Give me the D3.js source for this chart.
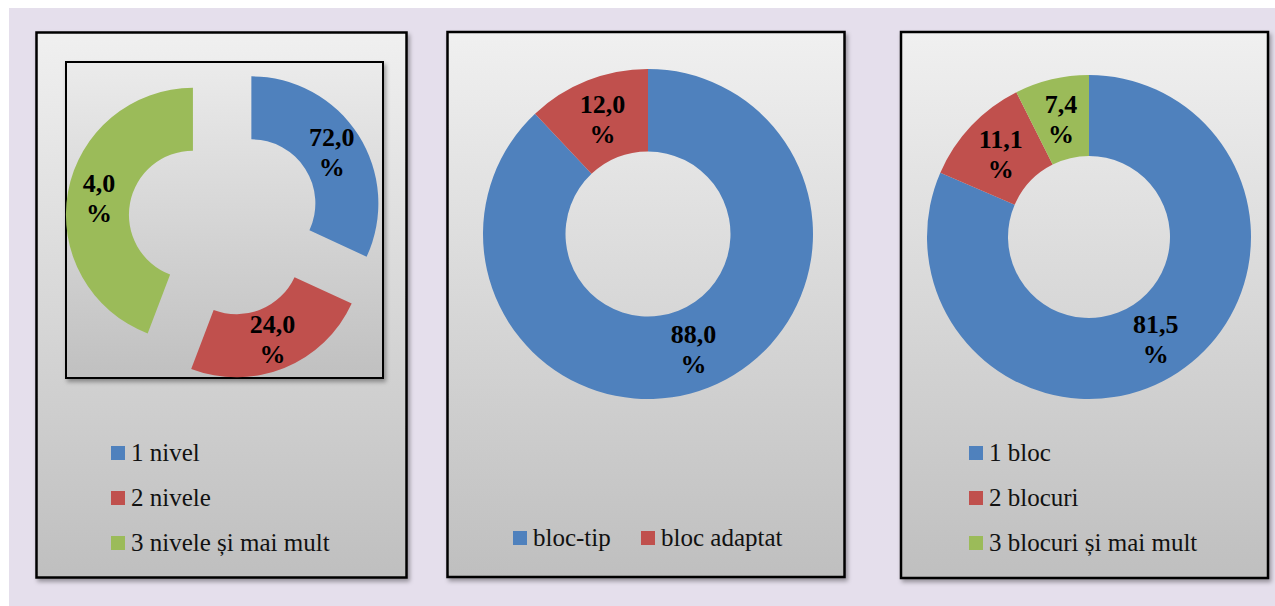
<!DOCTYPE html>
<html><head><meta charset="utf-8">
<script src="https://cdn.jsdelivr.net/npm/d3@7"></script>
</head><body style="margin:0;background:#fff">
<div id="wrap"></div>
<script>
const colors = ["#4f81bd", "#c0504d", "#9bbb59"];

// Panel 1 – number of levels (slice sizes as drawn; printed labels as shown)
const nivelCategories = ["1 nivel", "2 nivele", "3 nivele și mai mult"];
const nivelShares = [31.9, 23.9, 44.2];
const nivelLabels = ["72,0", "24,0", "4,0"];

// Panel 2 – building type
const tipCategories = ["bloc-tip", "bloc adaptat"];
const tipValues = [88.0, 12.0];

// Panel 3 – number of blocks
const blocCategories = ["1 bloc", "2 blocuri", "3 blocuri și mai mult"];
const blocValues = [81.5, 11.1, 7.4];

const fmt = v => d3.format(".1f")(v).replace(".", ",");
const FONT = '"Liberation Serif", cursive';

const svg = d3.select("#wrap").append("svg").attr("width", 1275).attr("height", 606)
  .style("display", "block");
const defs = svg.append("defs");

const grad = defs.append("linearGradient").attr("id", "panelGrad")
  .attr("x1", 0).attr("y1", 0).attr("x2", 0).attr("y2", 1);
grad.append("stop").attr("offset", "0%").attr("stop-color", "#f0f0f0");
grad.append("stop").attr("offset", "100%").attr("stop-color", "#bfbfbf");

const grad2 = defs.append("linearGradient").attr("id", "plotGrad")
  .attr("x1", 0).attr("y1", 0).attr("x2", 0).attr("y2", 1);
grad2.append("stop").attr("offset", "0%").attr("stop-color", "#ebebeb");
grad2.append("stop").attr("offset", "100%").attr("stop-color", "#c0c0c0");

const shadow = defs.append("filter").attr("id", "shadow")
  .attr("x", "-5%").attr("y", "-5%").attr("width", "115%").attr("height", "115%");
shadow.append("feDropShadow").attr("dx", 2).attr("dy", 3).attr("stdDeviation", 2)
  .attr("flood-color", "#000").attr("flood-opacity", 0.35);

// background
svg.append("rect").attr("x", 9).attr("y", 8).attr("width", 1266).attr("height", 598)
  .attr("fill", "#e5dfec");

const panels = [
  {x: 36.5, y: 32.5, w: 370, h: 545},
  {x: 447.5, y: 32, w: 397, h: 545},
  {x: 901, y: 32, w: 367, h: 546}
];
panels.forEach(p => {
  svg.append("rect").attr("x", p.x).attr("y", p.y).attr("width", p.w).attr("height", p.h)
    .attr("fill", "url(#panelGrad)").attr("stroke", "#000").attr("stroke-width", 2.5)
    .attr("filter", "url(#shadow)");
});

// inner plot area of panel 1
svg.append("rect").attr("x", 66).attr("y", 62).attr("width", 317).attr("height", 316)
  .attr("fill", "url(#plotGrad)").attr("stroke", "#000").attr("stroke-width", 2)
  .attr("filter", "url(#shadow)");

const pie = d3.pie().sort(null).value(d => d.v);

function labelText(g, x, y, main) {
  [[main, y - 6], ["%", y + 24]].forEach(([s, yy]) => {
    g.append("text").attr("x", x).attr("y", yy)
      .attr("text-anchor", "middle")
      .attr("font-family", "Liberation Serif")
      .style("font-family", FONT, "important")
      .style("font-weight", "bold").style("font-size", "26px")
      .attr("fill", "#000").text(s);
  });
}

function legendItem(x, y, i, c) {
  svg.append("rect").attr("x", x).attr("y", y).attr("width", 14).attr("height", 14)
    .attr("fill", colors[i]);
  svg.append("text").attr("x", x + 20).attr("y", y + 15)
    .attr("font-family", "Liberation Serif")
    .style("font-family", FONT, "important")
    .style("font-size", "25px").attr("fill", "#111").text(c);
}

// ---- Panel 1: exploded doughnut
{
  const cx = 224.4, cy = 220.6, R = 127, r = 64, explode = 32;
  const data = nivelCategories.map((c, i) => ({c, v: nivelShares[i], lab: nivelLabels[i], i}));
  const arc = d3.arc().innerRadius(r).outerRadius(R);
  pie(data).forEach(a => {
    const mid = (a.startAngle + a.endAngle) / 2;
    const ox = cx + Math.sin(mid) * explode, oy = cy - Math.cos(mid) * explode;
    const sg = svg.append("g").attr("transform", `translate(${ox},${oy})`);
    sg.append("path").attr("d", arc(a)).attr("fill", colors[a.data.i]);
    const [lx, ly] = arc.centroid(a);
    labelText(sg, lx, ly, a.data.lab);
  });
  nivelCategories.forEach((c, i) => legendItem(111, 446 + i * 45, i, c));
}

// ---- Panel 2
{
  const cx = 648, cy = 234, R = 165, r = 82.5;
  const data = tipCategories.map((c, i) => ({c, v: tipValues[i], i}));
  const arc = d3.arc().innerRadius(r).outerRadius(R);
  const g = svg.append("g").attr("transform", `translate(${cx},${cy})`);
  pie(data).forEach(a => {
    g.append("path").attr("d", arc(a)).attr("fill", colors[a.data.i]);
  });
  pie(data).forEach(a => {
    const [lx, ly] = arc.centroid(a);
    labelText(g, lx, ly, fmt(a.data.v));
  });
  const xs = [513, 641];
  tipCategories.forEach((c, i) => legendItem(xs[i], 531, i, c));
}

// ---- Panel 3
{
  const cx = 1089, cy = 237, R = 162, r = 81;
  const data = blocCategories.map((c, i) => ({c, v: blocValues[i], i}));
  const arc = d3.arc().innerRadius(r).outerRadius(R);
  const g = svg.append("g").attr("transform", `translate(${cx},${cy})`);
  pie(data).forEach(a => {
    g.append("path").attr("d", arc(a)).attr("fill", colors[a.data.i]);
  });
  pie(data).forEach(a => {
    const [lx, ly] = arc.centroid(a);
    labelText(g, lx, ly, fmt(a.data.v));
  });
  blocCategories.forEach((c, i) => legendItem(969, 446 + i * 45, i, c));
}
</script>
</body></html>
